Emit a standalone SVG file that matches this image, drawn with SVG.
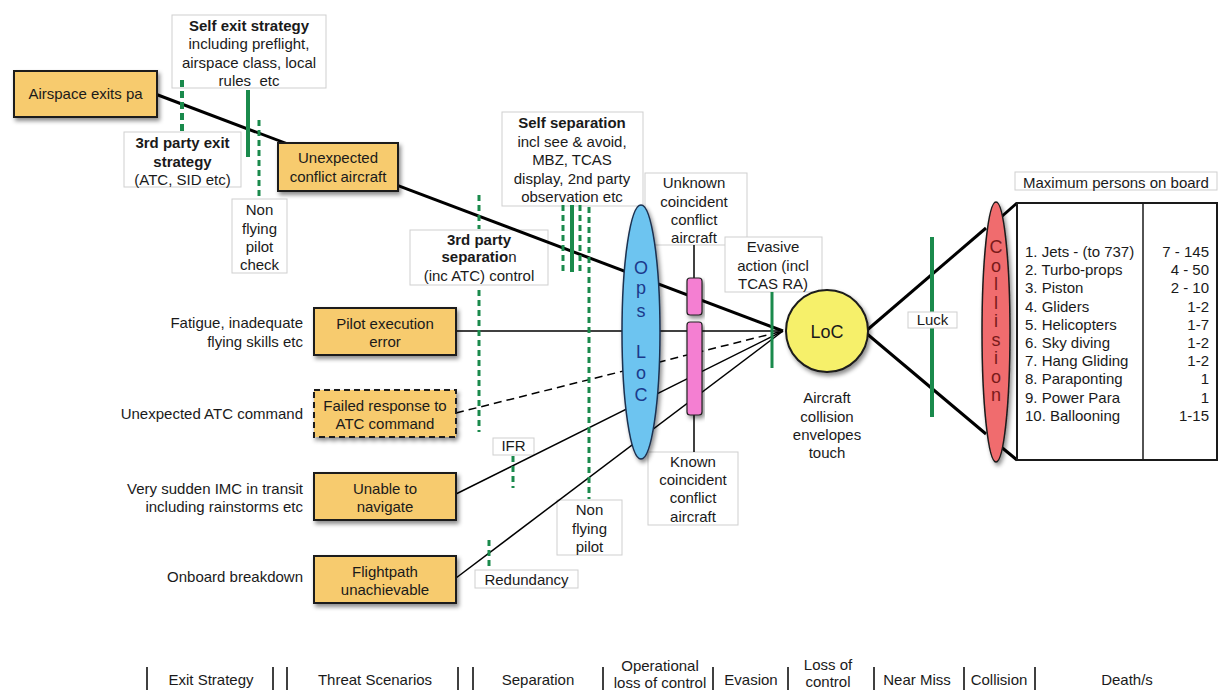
<svg xmlns="http://www.w3.org/2000/svg" width="1220" height="690" viewBox="0 0 1220 690">
<defs>
<filter id="sh" x="-20%" y="-20%" width="140%" height="140%">
<feDropShadow dx="2" dy="3" stdDeviation="2" flood-color="#000" flood-opacity="0.45"/>
</filter>
</defs>
<style>
text{font-family:"Liberation Sans",Arial,sans-serif;font-size:15px;fill:#1a1a1a}
.c{text-anchor:middle}
.r{text-anchor:end}
.bd{font-weight:bold}
.tb{fill:#fff;stroke:#cfcfcf;stroke-width:1}
.ob{fill:#F7CB6E;stroke:#1a1a1a;stroke-width:2;filter:url(#sh)}
.thick{stroke:#000;stroke-width:3;fill:none}
.thin{stroke:#000;stroke-width:1.5;fill:none}
.dash{stroke:#000;stroke-width:1.5;fill:none;stroke-dasharray:8 5}
.gs{stroke:#1a8a4c;stroke-width:4;fill:none}
.gd{stroke:#1a8a4c;stroke-width:4;fill:none;stroke-dasharray:7 4}
.gd2{stroke:#1a8a4c;stroke-width:3;fill:none;stroke-dasharray:6 4}
.sep{stroke:#000;stroke-width:1.5}
.big{font-size:18px}
.ops{font-size:18px;fill:#1b3a8c}
.col{font-size:18px;fill:#7a1a1a}
</style>
<rect width="1220" height="690" fill="#fff"/>

<!-- text label nodes -->
<g id="self-exit"><rect class="tb" x="172" y="15" width="154" height="73"/>
<text class="c" x="249" y="31"><tspan class="bd">Self exit strategy</tspan><tspan x="249" dy="18">including preflight,</tspan><tspan x="249" dy="18.5">airspace class, local</tspan><tspan x="249" dy="18">rules&#160; etc</tspan></text></g>
<g id="third-exit"><rect class="tb" x="124" y="132" width="117" height="55"/>
<text class="c" x="182.5" y="148"><tspan class="bd">3rd party exit</tspan><tspan class="bd" x="182.5" dy="19">strategy</tspan><tspan x="182.5" dy="18">(ATC, SID etc)</tspan></text></g>
<g id="nfp-check"><rect class="tb" x="232" y="199" width="55" height="74"/>
<text class="c" x="259.5" y="215"><tspan>Non</tspan><tspan x="259.5" dy="19">flying</tspan><tspan x="259.5" dy="18">pilot</tspan><tspan x="259.5" dy="18">check</tspan></text></g>
<g id="self-sep"><rect class="tb" x="502" y="112" width="141" height="94"/>
<text class="c" x="572" y="128"><tspan class="bd">Self separation</tspan><tspan x="572" dy="19">incl see &amp; avoid,</tspan><tspan x="572" dy="18">MBZ, TCAS</tspan><tspan x="572" dy="19">display, 2nd party</tspan><tspan x="572" dy="18">observation etc</tspan></text></g>
<g id="third-sep"><rect class="tb" x="410" y="230" width="138" height="55"/>
<text class="c" x="479" y="245"><tspan class="bd">3rd party</tspan><tspan x="479" dy="17"><tspan class="bd">separatio</tspan>n</tspan><tspan x="479" dy="19">(inc ATC) control</tspan></text></g>
<g id="unknown"><rect class="tb" x="645" y="173" width="102" height="72"/>
<text class="c" x="694" y="188"><tspan>Unknown</tspan><tspan x="694" dy="19">coincident</tspan><tspan x="694" dy="18">conflict</tspan><tspan x="694" dy="18">aircraft</tspan></text></g>
<g id="evasive"><rect class="tb" x="725" y="237" width="97" height="55"/>
<text class="c" x="773" y="252"><tspan>Evasive</tspan><tspan x="773" dy="19">action (incl</tspan><tspan x="773" dy="18">TCAS RA)</tspan></text></g>
<g id="known"><rect class="tb" x="648" y="452" width="90" height="73"/>
<text class="c" x="693" y="467"><tspan>Known</tspan><tspan x="693" dy="18">coincident</tspan><tspan x="693" dy="18">conflict</tspan><tspan x="693" dy="19">aircraft</tspan></text></g>
<g id="ifr"><rect class="tb" x="493" y="438" width="41" height="17"/>
<text class="c" x="513.5" y="451">IFR</text></g>
<g id="nfp"><rect class="tb" x="557" y="500" width="65" height="55"/>
<text class="c" x="589.5" y="515"><tspan>Non</tspan><tspan x="589.5" dy="19">flying</tspan><tspan x="589.5" dy="18">pilot</tspan></text></g>
<g id="redundancy"><rect class="tb" x="475" y="570" width="103" height="18"/>
<text class="c" x="526.5" y="585">Redundancy</text></g>
<g id="max-persons"><rect class="tb" x="1015" y="172" width="202" height="18"/>
<text class="c" x="1116" y="188">Maximum persons on board</text></g>

<!-- left labels -->
<g id="left-labels">
<text class="r" x="303" y="328">Fatigue, inadequate</text>
<text class="r" x="303" y="347">flying skills etc</text>
<text class="r" x="303" y="419">Unexpected ATC command</text>
<text class="r" x="303" y="494">Very sudden IMC in transit</text>
<text class="r" x="303" y="512">including rainstorms etc</text>
<text class="r" x="303" y="582">Onboard breakdown</text>
</g>

<!-- connectors -->
<g id="connectors">
<line class="thick" x1="150" y1="92" x2="783" y2="331"/>
<line class="thin" x1="456" y1="331" x2="783" y2="331"/>
<line class="dash" x1="456" y1="413" x2="783" y2="331"/>
<line class="thin" x1="456" y1="494" x2="783" y2="331"/>
<line class="thin" x1="456" y1="578" x2="783" y2="331"/>
<line class="thin" x1="694" y1="245" x2="694" y2="280"/>
<line class="thin" x1="694" y1="413" x2="694" y2="452"/>
<line class="thick" x1="866" y1="331" x2="986" y2="228"/>
<line class="thick" x1="866" y1="333" x2="986" y2="434"/>
<line class="thick" x1="1000" y1="218" x2="1017" y2="203"/>
<line class="thick" x1="1000" y1="446" x2="1017" y2="460"/>
</g>

<!-- main nodes -->
<g id="airspace"><rect class="ob" x="14" y="71" width="143" height="46"/>
<text class="c" x="85.5" y="99">Airspace exits pa</text></g>
<g id="unexpected"><rect class="ob" x="278" y="143" width="120" height="48"/>
<text class="c" x="338" y="163"><tspan>Unexpected</tspan><tspan x="338" dy="19">conflict aircraft</tspan></text></g>
<g id="pilot-error"><rect class="ob" x="314" y="308" width="142" height="47"/>
<text class="c" x="385" y="329"><tspan>Pilot execution</tspan><tspan x="385" dy="18">error</tspan></text></g>
<g id="failed-response"><rect class="ob" x="314" y="390" width="142" height="47" style="stroke-dasharray:6 4"/>
<text class="c" x="385" y="411"><tspan>Failed response to</tspan><tspan x="385" dy="18">ATC command</tspan></text></g>
<g id="unable-navigate"><rect class="ob" x="314" y="473" width="142" height="47"/>
<text class="c" x="385" y="494"><tspan>Unable to</tspan><tspan x="385" dy="18">navigate</tspan></text></g>
<g id="flightpath"><rect class="ob" x="314" y="556" width="142" height="47"/>
<text class="c" x="385" y="577"><tspan>Flightpath</tspan><tspan x="385" dy="18">unachievable</tspan></text></g>

<g id="ops-loc"><ellipse cx="641" cy="332" rx="19" ry="127" fill="#6DC4F0" stroke="#1b3050" stroke-width="1.5" filter="url(#sh)"/>
<text class="c ops" x="641" y="274">O</text>
<text class="c ops" x="641" y="294">p</text>
<text class="c ops" x="641" y="317">s</text>
<text class="c ops" x="641" y="358">L</text>
<text class="c ops" x="641" y="379">o</text>
<text class="c ops" x="641" y="401">C</text>
</g>

<g id="pink-upper"><rect x="687" y="278" width="15" height="37" rx="3" fill="#F47FD2" stroke="#222" stroke-width="1.2" filter="url(#sh)"/></g>
<g id="pink-lower"><rect x="687" y="322" width="15" height="93" rx="3" fill="#F47FD2" stroke="#222" stroke-width="1.2" filter="url(#sh)"/></g>

<g id="loc"><circle cx="827" cy="331" r="41" fill="#F6F06A" stroke="#1a1a1a" stroke-width="2" filter="url(#sh)"/>
<text class="c big" x="827" y="338">LoC</text>
<text class="c" x="827" y="403"><tspan>Aircraft</tspan><tspan x="827" dy="19">collision</tspan><tspan x="827" dy="18">envelopes</tspan><tspan x="827" dy="18">touch</tspan></text></g>

<g id="collision"><ellipse cx="996" cy="332" rx="14" ry="130" fill="#F06C6E" stroke="#1a1a1a" stroke-width="1.5" filter="url(#sh)"/>
<text class="c col" x="996" y="253">C</text>
<text class="c col" x="996" y="271.5">o</text>
<text class="c col" x="996" y="290">l</text>
<text class="c col" x="996" y="308.5">l</text>
<text class="c col" x="996" y="327">i</text>
<text class="c col" x="996" y="345.5">s</text>
<text class="c col" x="996" y="364">i</text>
<text class="c col" x="996" y="382.5">o</text>
<text class="c col" x="996" y="401">n</text>
</g>

<g id="table"><rect x="1017" y="203" width="200" height="257" fill="#fff" stroke="#1a1a1a" stroke-width="2"/>
<line x1="1143" y1="203" x2="1143" y2="460" stroke="#1a1a1a" stroke-width="1.5"/>
<text x="1025" y="257"><tspan x="1025">1. Jets - (to 737)</tspan><tspan x="1025" dy="18.2">2. Turbo-props</tspan><tspan x="1025" dy="18.2">3. Piston</tspan><tspan x="1025" dy="18.2">4. Gliders</tspan><tspan x="1025" dy="18.2">5. Helicopters</tspan><tspan x="1025" dy="18.2">6. Sky diving</tspan><tspan x="1025" dy="18.2">7. Hang Gliding</tspan><tspan x="1025" dy="18.2">8. Paraponting</tspan><tspan x="1025" dy="18.2">9. Power Para</tspan><tspan x="1025" dy="18.2">10. Ballooning</tspan></text>
<text class="r" x="1209" y="257"><tspan x="1209">7 - 145</tspan><tspan x="1209" dy="18.2">4 - 50</tspan><tspan x="1209" dy="18.2">2 - 10</tspan><tspan x="1209" dy="18.2">1-2</tspan><tspan x="1209" dy="18.2">1-7</tspan><tspan x="1209" dy="18.2">1-2</tspan><tspan x="1209" dy="18.2">1-2</tspan><tspan x="1209" dy="18.2">1</tspan><tspan x="1209" dy="18.2">1</tspan><tspan x="1209" dy="18.2">1-15</tspan></text>
</g>

<!-- barriers (green) -->
<g id="barriers">
<line class="gd" x1="182" y1="80" x2="182" y2="131"/>
<line class="gs" x1="248" y1="90" x2="248" y2="157"/>
<line class="gd2" x1="259" y1="120" x2="259" y2="199"/>
<line class="gd2" x1="479" y1="195" x2="479" y2="229"/>
<line class="gd2" x1="479" y1="290" x2="479" y2="432"/>
<line class="gd2" x1="563" y1="205" x2="563" y2="274"/>
<line class="gs" x1="572" y1="205" x2="572" y2="272"/>
<line class="gd2" x1="580" y1="205" x2="580" y2="275"/>
<line class="gd2" x1="589" y1="207" x2="589" y2="499"/>
<line class="gd2" x1="513" y1="456" x2="513" y2="488"/>
<line class="gd2" x1="489" y1="540" x2="489" y2="570"/>
<line stroke="#1a8a4c" stroke-width="3" x1="772" y1="292" x2="772" y2="368"/>
<line class="gs" x1="932" y1="237" x2="932" y2="417"/>
</g>

<g id="luck"><rect class="tb" x="908" y="312" width="49" height="16"/>
<text class="c" x="932.5" y="325">Luck</text></g>

<!-- phase axis -->
<g id="phases">
<line class="sep" x1="147" y1="667" x2="147" y2="690"/>
<line class="sep" x1="273" y1="667" x2="273" y2="690"/>
<line class="sep" x1="287" y1="667" x2="287" y2="690"/>
<line class="sep" x1="458" y1="667" x2="458" y2="690"/>
<line class="sep" x1="473" y1="667" x2="473" y2="690"/>
<line class="sep" x1="603" y1="667" x2="603" y2="690"/>
<line class="sep" x1="713" y1="667" x2="713" y2="690"/>
<line class="sep" x1="788" y1="667" x2="788" y2="690"/>
<line class="sep" x1="874" y1="667" x2="874" y2="690"/>
<line class="sep" x1="964" y1="667" x2="964" y2="690"/>
<line class="sep" x1="1035" y1="667" x2="1035" y2="690"/>
<text class="c" x="211" y="685">Exit Strategy</text>
<text class="c" x="375" y="685">Threat Scenarios</text>
<text class="c" x="538" y="685">Separation</text>
<text class="c" x="660" y="671"><tspan>Operational</tspan><tspan x="660" dy="17">loss of control</tspan></text>
<text class="c" x="751" y="685">Evasion</text>
<text class="c" x="828" y="670"><tspan>Loss of</tspan><tspan x="828" dy="17">control</tspan></text>
<text class="c" x="917" y="685">Near Miss</text>
<text class="c" x="999" y="685">Collision</text>
<text class="c" x="1127" y="685">Death/s</text>
</g>
</svg>
